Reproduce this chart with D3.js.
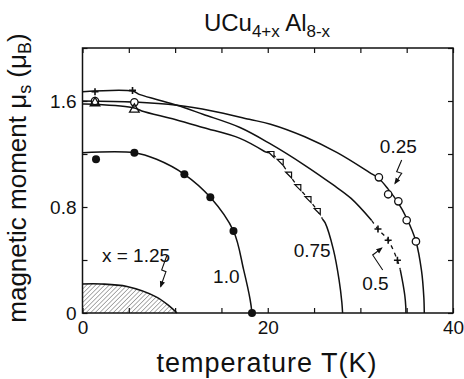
<!DOCTYPE html>
<html><head><meta charset="utf-8">
<script src="https://cdn.jsdelivr.net/npm/d3@7"></script>
<style>
html,body{margin:0;padding:0;background:#fff;}
svg{display:block;}
text{font-family:"Liberation Sans",Arial,sans-serif;fill:#111;}
</style></head>
<body><svg id="c" width="464" height="379"></svg>
<script>
// ---------- data (T in K, moment in µB) ----------
const xTickValues = [0,5,10,15,20,25,30,35,40];
const xTickLabels = [0,20,40];
const yTickValues = [0,0.4,0.8,1.2,1.6,2.0];
const yTickLabels = [0,0.8,1.6];

// measured points
const pts025 = [[1.35,1.60],[5.6,1.59],[32.0,1.024],[33.0,0.896],[34.1,0.843],[35.0,0.70],[36.0,0.54]];
const pts05  = [[1.35,1.67],[5.4,1.68],[31.9,0.634],[33.0,0.549],[34.0,0.398]];
const pts075a = [[1.35,1.585],[5.6,1.537]];
const pts075b = [[20.4,1.20],[21.4,1.14],[22.3,1.045],[23.3,0.95],[24.4,0.86],[25.4,0.77]];
const pts10  = [[1.46,1.16],[5.6,1.21],[11.0,1.047],[13.8,0.873],[16.3,0.619],[18.3,0]];

// drawn curves
const curve025 = [[0,1.60],[5.6,1.592],[10.2,1.568],[14,1.525],[18,1.462],[20.3,1.425],[24,1.33],[27.5,1.21],[31,1.06],[32,1.015],[33,0.935],[34,0.84],[35,0.715],[36,0.54],[36.6,0.32],[36.85,0.12],[36.9,0]];
const curve05a = [[0,1.67],[5.4,1.675],[6.2,1.648],[8,1.612],[10.2,1.568],[13,1.50],[17,1.40],[20.2,1.28],[24,1.115],[27,0.97],[29,0.865],[31.2,0.70]];
const curve05b = [[31.2,0.70],[31.9,0.634],[33.0,0.549],[34.0,0.398],[34.3,0.33]];
const curve05c = [[34.3,0.33],[34.6,0.22],[34.8,0.13],[34.9,0.05],[34.92,0]];
const curve075a = [[0,1.577],[1.35,1.575],[5.6,1.547],[6.4,1.525],[10,1.46],[13,1.40],[17,1.318],[19.7,1.217]];
const curve075b = [[19.7,1.217],[20.4,1.20],[21.4,1.14],[22.3,1.045],[23.3,0.95],[24.4,0.86],[25.4,0.77],[25.9,0.71]];
const curve075c = [[25.9,0.71],[26.2,0.68],[27.1,0.475],[27.7,0.25],[28.0,0.08],[28.08,0]];
const curve10 = [[0,1.21],[5.6,1.21],[8,1.16],[11,1.047],[13.8,0.873],[16.3,0.619],[17.4,0.325],[18.1,0.1],[18.3,0]];
const area125 = [[0,0.219],[2,0.219],[4.8,0.2],[8.0,0.12],[9.45,0.048],[10.2,0]];

// annotations (data coordinates)
const arrow125 = [[9.09,0.43],[8.55,0.325],[9.01,0.312],[8.44,0.2]];
const arrow025 = [[34.46,1.155],[33.92,1.066],[34.46,1.054],[33.74,0.979]];
const arrow05  = [[32.41,0.325],[31.33,0.438],[31.58,0.451],[32.30,0.49]];
const seriesLabels = [
  {t:"x = 1.25", T:2.1, m:0.385},
  {t:"1.0", T:14.1, m:0.225},
  {t:"0.75", T:22.8, m:0.42},
  {t:"0.5", T:30.2, m:0.175},
  {t:"0.25", T:32.1, m:1.205}
];

// ---------- chart ----------
const svg = d3.select("#c");
const L=82.5, R=453, T0=48, B=313;
const x = d3.scaleLinear().domain([0,40]).range([L,R]);
const y = d3.scaleLinear().domain([0,2]).range([B,T0]);

const defs = svg.append("defs");
const pat = defs.append("pattern").attr("id","hatch").attr("patternUnits","userSpaceOnUse")
  .attr("width",3.2).attr("height",3.2).attr("patternTransform","rotate(45)");
pat.append("line").attr("x1",0).attr("y1",0).attr("x2",0).attr("y2",3.2)
  .attr("stroke","#333").attr("stroke-width",0.8);

const line = d3.line().x(d=>x(d[0])).y(d=>y(d[1])).curve(d3.curveCatmullRom.alpha(0.5));

// hatched area
const area = d3.area().x(d=>x(d[0])).y0(y(0)).y1(d=>y(d[1])).curve(d3.curveCatmullRom.alpha(0.5));
svg.append("path").attr("d",area(area125)).attr("fill","url(#hatch)");
svg.append("path").attr("d",line(area125)).attr("fill","none").attr("stroke","#111").attr("stroke-width",1.6);

// axes
const ax = svg.append("g").attr("class","axes");
const fmtX = d => xTickLabels.includes(d) ? String(d) : "";
const fmtY = d => yTickLabels.includes(d) ? (d===0?"0":d3.format(".1f")(d)) : "";
ax.append("g").attr("transform",`translate(0,${B})`)
  .call(d3.axisBottom(x).tickValues(xTickValues).tickSize(-5).tickPadding(8).tickFormat(fmtX));
ax.append("g").attr("transform",`translate(0,${T0})`)
  .call(d3.axisTop(x).tickValues(xTickValues).tickSize(-5).tickFormat(""));
ax.append("g").attr("transform",`translate(${L},0)`)
  .call(d3.axisLeft(y).tickValues(yTickValues).tickSize(-5).tickPadding(6).tickFormat(fmtY));
ax.append("g").attr("transform",`translate(${R},0)`)
  .call(d3.axisRight(y).tickValues(yTickValues).tickSize(-5).tickFormat(""));
ax.selectAll(".domain").remove();
ax.selectAll("line").attr("stroke","#111").attr("stroke-width",1.2);
ax.selectAll("text").attr("font-size",19).attr("font-family","Liberation Sans, Arial, sans-serif").attr("fill","#111");
svg.append("rect").attr("x",L).attr("y",T0).attr("width",R-L).attr("height",B-T0)
  .attr("fill","none").attr("stroke","#111").attr("stroke-width",1.5);

// curves
const solid = [curve025, curve05a, curve05c, curve075a, curve075c, curve10];
solid.forEach(c=>svg.append("path").attr("d",line(c)).attr("fill","none").attr("stroke","#111").attr("stroke-width",1.5));
[curve05b, curve075b].forEach(c=>svg.append("path").attr("d",line(c)).attr("fill","none")
  .attr("stroke","#111").attr("stroke-width",1.3).attr("stroke-dasharray","4,4"));

// symbols
const g = svg.append("g");
g.selectAll(".oc").data(pts025).join("circle").attr("cx",d=>x(d[0])).attr("cy",d=>y(d[1])).attr("r",3.7)
  .attr("fill","#fff").attr("stroke","#111").attr("stroke-width",1.3);
g.selectAll(".tr").data(pts075a).join("path").attr("transform",d=>`translate(${x(d[0])},${y(d[1])})`)
  .attr("d",d3.symbol(d3.symbolTriangle,40)).attr("fill","none").attr("stroke","#111").attr("stroke-width",1.3);
g.selectAll(".tr2").data(pts075b).join("path").attr("transform",d=>`translate(${x(d[0])},${y(d[1])})`)
  .attr("d","M-3.5,-2.5L2.5,-2.5L2.5,3.5Z").attr("fill","#fff").attr("stroke","#111").attr("stroke-width",1.2);
g.selectAll(".cr").data(pts05).join("path").attr("transform",d=>`translate(${x(d[0])},${y(d[1])})`)
  .attr("d","M-3.5,0H3.5M0,-3.5V3.5").attr("stroke","#111").attr("stroke-width",1.6);
g.selectAll(".fc").data(pts10).join("circle").attr("cx",d=>x(d[0])).attr("cy",d=>y(d[1])).attr("r",4)
  .attr("fill","#111");

// annotations
defs.append("marker").attr("id","ah").attr("viewBox","0 0 10 10").attr("refX",8).attr("refY",5)
  .attr("markerWidth",6).attr("markerHeight",6).attr("orient","auto")
  .append("path").attr("d","M0,1L10,5L0,9Z").attr("fill","#111");
const sl = d3.line().x(d=>x(d[0])).y(d=>y(d[1]));
[arrow125, arrow025, arrow05].forEach(a=>svg.append("path").attr("d",sl(a)).attr("fill","none")
  .attr("stroke","#111").attr("stroke-width",1.1).attr("marker-end","url(#ah)"));
svg.selectAll(".lab").data(seriesLabels).join("text").attr("x",d=>x(d.T)).attr("y",d=>y(d.m))
  .attr("font-size",19).text(d=>d.t);

// titles
const title = svg.append("text").attr("x",267).attr("y",31).attr("text-anchor","middle").attr("font-size",24);
title.append("tspan").text("UCu");
title.append("tspan").attr("font-size",17).attr("dy",6).text("4+x");
title.append("tspan").attr("dy",-6).text(" Al");
title.append("tspan").attr("font-size",17).attr("dy",6).text("8-x");

svg.append("text").attr("x",267).attr("y",372).attr("text-anchor","middle").attr("font-size",27)
  .attr("letter-spacing",1).text("temperature T(K)");

const yl = svg.append("text").attr("transform","translate(26,178) rotate(-90)").attr("text-anchor","middle").attr("font-size",26);
yl.append("tspan").text("magnetic moment μ");
yl.append("tspan").attr("font-size",18).attr("dy",5).text("s");
yl.append("tspan").attr("dy",-5).text(" (μ");
yl.append("tspan").attr("font-size",18).attr("dy",5).text("B");
yl.append("tspan").attr("dy",-5).text(")");
</script></body></html>
